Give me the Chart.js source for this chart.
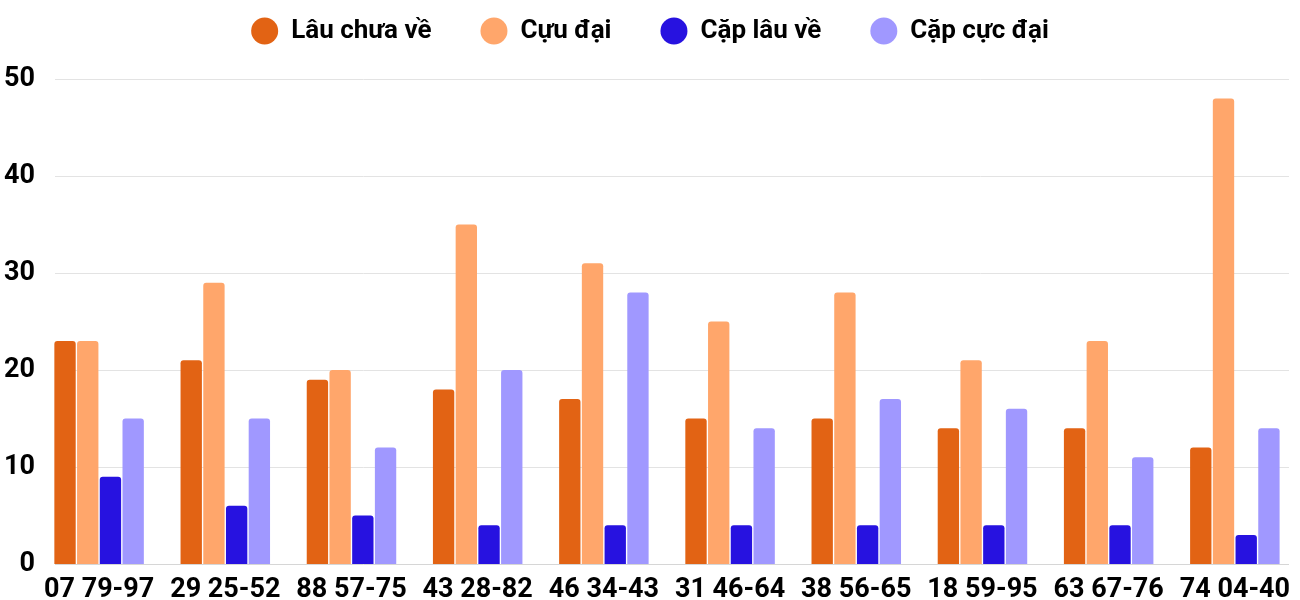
<!DOCTYPE html>
<html><head><meta charset="utf-8">
<script src="https://cdn.jsdelivr.net/npm/chart.js@4/dist/chart.umd.min.js"></script>
<style>html,body{margin:0;padding:0;background:#fff}#wrap{width:1300px;height:600px}</style>
</head><body><div id="wrap"><canvas id="c"></canvas></div>
<script>
const categories = ["07 79-97","29 25-52","88 57-75","43 28-82","46 34-43","31 46-64","38 56-65","18 59-95","63 67-76","74 04-40"];
const lauChuaVe = [23,21,19,18,17,15,15,14,14,12];
const cuuDai = [23,29,20,35,31,25,28,21,23,48];
const capLauVe = [9,6,5,4,4,4,4,4,4,3];
const capCucDai = [15,15,12,20,28,14,17,16,11,14];
const yTicks = [0,10,20,30,40,50];

const TOP_SHIFT = -31;
const gridPlugin = {
  id:'gridP',
  beforeInit(chart){
    const lg = chart.legend;
    if (lg) {
      const orig = lg.fit.bind(lg);
      lg.fit = function(){ orig(); this.height = 79 - TOP_SHIFT; };
    }
  },
  beforeDatasetsDraw(chart){
    const y = chart.scales.y, ctx = chart.ctx;
    ctx.save();
    yTicks.forEach(v=>{
      const py = Math.round(y.getPixelForValue(v))+0.5;
      ctx.strokeStyle = v===0 ? '#d6d6d6' : '#e3e3e3';
      ctx.lineWidth = 1;
      ctx.beginPath(); ctx.moveTo(55,py); ctx.lineTo(1289,py); ctx.stroke();
    });
    ctx.restore();
  }
};

const font = {family:'Roboto', weight:'bold', size:27};
new Chart(document.getElementById('c'), {
  type:'bar',
  data:{labels:categories, datasets:[
    {label:'Lâu chưa về', data:lauChuaVe, backgroundColor:'#E26314'},
    {label:'Cựu đại', data:cuuDai, backgroundColor:'#FFA66B'},
    {label:'Cặp lâu về', data:capLauVe, backgroundColor:'#2712E0'},
    {label:'Cặp cực đại', data:capCucDai, backgroundColor:'#A098FF'}
  ]},
  options:{
    responsive:true, maintainAspectRatio:false, animation:false,
    layout:{padding:{left:0,right:0,top:TOP_SHIFT,bottom:0}},
    datasets:{bar:{categoryPercentage:0.72, barPercentage:0.94, borderRadius:{topLeft:3,topRight:3}, borderSkipped:'bottom'}},
    plugins:{
      tooltip:{enabled:false},
      legend:{position:'top', labels:{usePointStyle:true, pointStyle:'circle', pointStyleWidth:27, boxHeight:19, padding:49, color:'#000', font:{family:'Roboto', weight:'bold', size:26}}}
    },
    scales:{
      x:{grid:{display:false, drawTicks:false}, border:{display:false}, ticks:{color:'#000', font:font, padding:10, maxRotation:0, autoSkip:false},
         afterFit(s){s.height=36;}},
      y:{min:0,max:50, grid:{display:false, drawTicks:false}, border:{display:false},
         ticks:{stepSize:10, color:'#000', font:font, padding:1},
         afterFit(s){s.width=36;}}
    }
  },
  plugins:[gridPlugin]
});
</script></body></html>
